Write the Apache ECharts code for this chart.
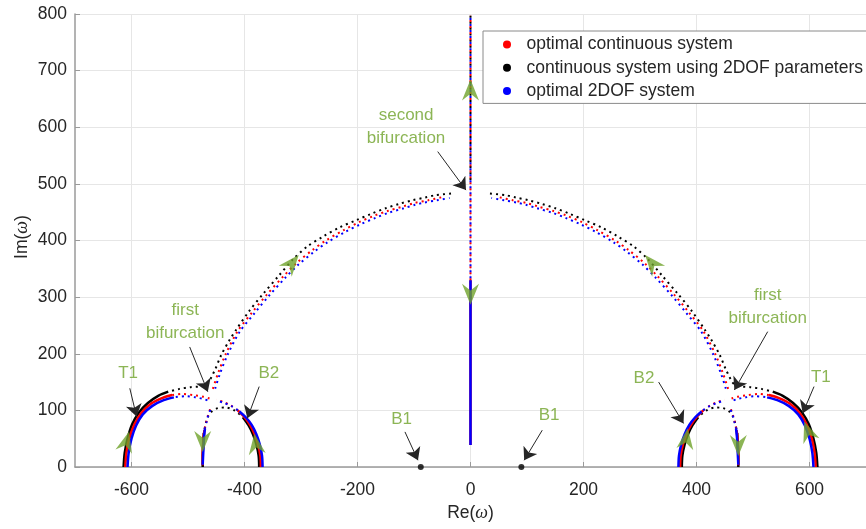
<!DOCTYPE html>
<html>
<head>
<meta charset="utf-8">
<script src="https://cdn.jsdelivr.net/npm/echarts@6/dist/echarts.min.js"></script>
<style>
  html, body { margin: 0; padding: 0; background: #fff; }
  #chart { width: 866px; height: 529px; }
</style>
</head>
<body>
<div id="chart"></div>
<script>
// axis ticks
var xTicks = [-600, -400, -200, 0, 200, 400, 600];
var yTicks = [0, 100, 200, 300, 400, 500, 600, 700, 800];

var nameRed = 'optimal continuous system';
var nameBlack = 'continuous system using 2DOF parameters';
var nameBlue = 'optimal 2DOF system';

// ---- optimal continuous system (red), left half
var redT1L = [[-611,0],[-609,25],[-604,50],[-595,75],[-582,96],[-565,112],[-545,122],[-528,127]];
var redT1TailL = [[-528,127],[-510,129],[-490,127],[-472,124],[-462,121]];
var redArcL = [[-456,138],[-447,165],[-433,200],[-412,240],[-385,275],[-360,305],[-330,338],[-308,360],[-280,383],[-256,400],[-225,418],[-198,432],[-170,444],[-147,452],[-120,460],[-100,466],[-75,471],[-48,477]];
var redB2L = [[-371,0],[-372,20],[-376,40],[-382,58],[-390,74],[-400,88],[-412,100]];
var redB2TopL = [[-412,100],[-425,109],[-438,115],[-450,119]];
var redDescTopL = [[-461,102],[-465,90],[-468,78],[-471,65]];
var redDescL = [[-471,65],[-473,45],[-474,20],[-474,3]];
// right half
var redT1R = [[611,0],[609,25],[604,50],[595,75],[582,96],[565,112],[545,122],[528,127]];
var redT1TailR = [[528,127],[510,129],[490,127],[472,124],[462,121]];
var redArcR = [[456,138],[447,165],[433,200],[412,240],[385,275],[360,305],[330,338],[308,360],[280,383],[256,400],[225,418],[198,432],[170,444],[147,452],[120,460],[100,466],[75,471],[48,477]];
var redB2R = [[371,0],[372,20],[376,40],[382,58],[390,74],[400,88],[412,100]];
var redB2TopR = [[412,100],[425,109],[438,115],[450,119]];
var redDescTopR = [[461,102],[465,90],[468,78],[471,65]];
var redDescR = [[471,65],[473,45],[474,20],[474,3]];
var redV = [[0,39],[0,330]];
var redVTop = [[0,330],[0,797]];

// ---- continuous system using 2DOF parameters (black)
var blackT1L = [[-614,0],[-612,25],[-607,50],[-599,75],[-587,96],[-571,113],[-552,126],[-535,133]];
var blackArcL = [[-535,133],[-515,138],[-495,141],[-480,142],[-470,144],[-463,150],[-458,160],[-452,172],[-441,198],[-426,225],[-415,242],[-392,275],[-366,307],[-340,337],[-313,368],[-288,390],[-261,407],[-232,423],[-202,436],[-176,447],[-150,457],[-125,465],[-103,471],[-80,476],[-62,480],[-33,483]];
var blackB2L = [[-374,0],[-375,20],[-379,40],[-385,58],[-393,74],[-403,88]];
var blackB2TopL = [[-403,88],[-418,100],[-433,105],[-447,104],[-458,98],[-465,88],[-469,75],[-472,60]];
var blackDescL = [[-472,60],[-473,40],[-474,20],[-474,0]];
var blackT1R = [[614,0],[612,25],[607,50],[599,75],[587,96],[571,113],[552,126],[535,133]];
var blackArcR = [[535,133],[515,138],[495,141],[480,142],[470,144],[463,150],[458,160],[452,172],[441,198],[426,225],[415,242],[392,275],[366,307],[340,337],[313,368],[288,390],[261,407],[232,423],[202,436],[176,447],[150,457],[125,465],[103,471],[80,476],[62,480],[33,483]];
var blackB2R = [[374,0],[375,20],[379,40],[385,58],[393,74],[403,88]];
var blackB2TopR = [[403,88],[418,100],[433,105],[447,104],[458,98],[465,88],[469,75],[472,60]];
var blackDescR = [[472,60],[473,40],[474,20],[474,0]];
var blackVTop = [[0,500],[0,797]];
var blackB1 = [[-88,0],[90,0]];

// ---- optimal 2DOF system (blue)
var blueT1L = [[-607,0],[-605,25],[-600,50],[-592,73],[-580,93],[-563,108],[-543,118],[-525,123]];
var blueT1TailL = [[-525,123],[-505,125],[-487,123],[-472,120],[-464,117]];
var blueArcL = [[-453,135],[-444,163],[-430,198],[-409,238],[-382,272],[-357,302],[-327,335],[-305,357],[-277,380],[-253,397],[-222,415],[-196,428],[-168,440],[-145,449],[-118,457],[-98,463],[-82,467],[-60,471],[-37,475]];
var blueB2L = [[-368,0],[-369,20],[-373,40],[-379,58],[-387,74],[-397,87],[-409,98]];
var blueB2TopL = [[-409,98],[-422,107],[-436,113],[-448,117]];
var blueDescTopL = [[-459,104],[-464,92],[-467,80],[-470,68]];
var blueDescL = [[-470,68],[-472,48],[-473,25],[-474,4]];
var blueT1R = [[607,0],[605,25],[600,50],[592,73],[580,93],[563,108],[543,118],[525,123]];
var blueT1TailR = [[525,123],[505,125],[487,123],[472,120],[464,117]];
var blueArcR = [[453,135],[444,163],[430,198],[409,238],[382,272],[357,302],[327,335],[305,357],[277,380],[253,397],[222,415],[196,428],[168,440],[145,449],[118,457],[98,463],[82,467],[60,471],[37,475]];
var blueB2R = [[368,0],[369,20],[373,40],[379,58],[387,74],[397,87],[409,98]];
var blueB2TopR = [[409,98],[422,107],[436,113],[448,117]];
var blueDescTopR = [[459,104],[464,92],[467,80],[470,68]];
var blueDescR = [[470,68],[472,48],[473,25],[474,4]];
var blueV = [[0,39],[0,330]];
var blueVTop = [[0,330],[0,797]];

// green direction arrows: x, y, rotation
var dirArrows = [
  [-609,45,-15], [-474,45,180], [-380,41,8], [-316,360,-40],
  [0,305,180], [0,666,0],
  [321,360,40], [382,50,-8], [474,38,180], [597,63,20]
];

// annotation arrows: from -> to
var annoArrows = [
  [[-603,139],[-591,89]],
  [[-374,142],[-395,86]],
  [[-497,212],[-465,133]],
  [[-58,557],[-8,489]],
  [[-116,62],[-93,12]],
  [[127,65],[95,12]],
  [[333,150],[377,77]],
  [[526,239],[467,136]],
  [[608,142],[588,95]]
];

// annotation texts
var annoTexts = [
  ['T1',-606,165], ['B2',-357,165], ['first\nbifurcation',-505,257],
  ['second\nbifurcation',-114,601], ['B1',-122,84], ['B1',139,92],
  ['B2',307,157], ['first\nbifurcation',526,283], ['T1',620,159]
];

var RED = '#ff0000', BLACK = '#000000', BLUE = '#0000ff', GREEN = '#6fa22a';
var FONT = 'Liberation Sans, Arial, sans-serif';

function branch(name, color, data, dotted, offset) {
  return {
    name: name, type: 'line', data: data, symbol: 'none', showSymbol: false,
    smooth: 0.3, color: color, itemStyle: {color: color}, silent: true,
    lineStyle: {color: color, width: dotted ? 2 : 2.5, type: dotted ? [2, 4] : 'solid', dashOffset: offset || 0},
    z: 2
  };
}

var series = [];
// black first (bottom), then red, then blue
[blackT1L, blackB2L, blackDescL, blackT1R, blackB2R, blackDescR].forEach(function (d) {
  series.push(branch(nameBlack, BLACK, d, false));
});
[blackArcL, blackB2TopL, blackArcR, blackB2TopR, blackVTop].forEach(function (d) {
  series.push(branch(nameBlack, BLACK, d, true, 2));
});
[redT1L, redB2L, redDescL, redT1R, redB2R, redDescR, redV].forEach(function (d) {
  series.push(branch(nameRed, RED, d, false));
});
[redT1TailL, redArcL, redB2TopL, redDescTopL, redT1TailR, redArcR, redB2TopR, redDescTopR, redVTop].forEach(function (d) {
  series.push(branch(nameRed, RED, d, true, 0));
});
[blueT1L, blueB2L, blueDescL, blueT1R, blueB2R, blueDescR, blueV].forEach(function (d) {
  series.push(branch(nameBlue, BLUE, d, false));
});
[blueT1TailL, blueArcL, blueB2TopL, blueDescTopL, blueT1TailR, blueArcR, blueB2TopR, blueDescTopR, blueVTop].forEach(function (d) {
  series.push(branch(nameBlue, BLUE, d, true, 4));
});

// B1 points
series.push({
  name: nameBlack, type: 'scatter', data: blackB1, symbol: 'circle', symbolSize: 6,
  itemStyle: {color: BLACK}, silent: true, z: 3
});

// annotation arrows
series.push({
  type: 'lines', coordinateSystem: 'cartesian2d', silent: true, z: 5,
  data: annoArrows.map(function (a) { return {coords: a}; }),
  symbol: ['none', 'arrow'], symbolSize: 12,
  lineStyle: {color: '#262626', width: 1, opacity: 1}
});

// green direction arrows
series.push({
  type: 'scatter', silent: true, z: 6,
  symbol: 'path://M0,0 L9,22 L0,15 L-9,22 Z', symbolSize: [17, 21],
  itemStyle: {color: GREEN},
  data: dirArrows.map(function (a) { return {value: [a[0], a[1]], symbolRotate: a[2]}; })
});

// annotation labels
series.push({
  type: 'scatter', silent: true, z: 7, symbolSize: 1,
  itemStyle: {color: 'rgba(0,0,0,0)'},
  label: {show: true, position: 'inside', formatter: '{b}', color: GREEN, fontSize: 17, lineHeight: 23, fontFamily: FONT, align: 'center', verticalAlign: 'middle'},
  labelLayout: {hideOverlap: false},
  data: annoTexts.map(function (t) { return {name: t[0], value: [t[1], t[2]]}; })
});

var chart = echarts.init(document.getElementById('chart'));
chart.setOption({
  animation: false,
  backgroundColor: '#fff',
  textStyle: {fontFamily: FONT},
  grid: {left: 75, top: 14, width: 796, height: 453},
  legend: {
    data: [nameRed, nameBlack, nameBlue],
    orient: 'vertical', left: 483, top: 31,
    icon: 'circle', itemWidth: 29, itemHeight: 8, itemGap: 5.2,
    padding: [4.5, 30, 3.5, 20],
    backgroundColor: '#fff', borderColor: '#8a8a8a', borderWidth: 1,
    textStyle: {fontSize: 17.5, color: '#262626', fontFamily: FONT},
    selectedMode: false
  },
  // y axis title drawn as rotated text
  graphic: [{
    type: 'text', x: 22, y: 237, rotation: Math.PI / 2, silent: true,
    style: {
      text: 'Im({i|ω})', align: 'center', verticalAlign: 'middle',
      fontSize: 17.5, fill: '#262626', fontFamily: FONT,
      rich: {i: {fontStyle: 'italic', fontFamily: 'Liberation Serif', fontSize: 18, fill: '#262626'}}
    }
  }],
  xAxis: {
    type: 'value', min: -700, max: 700,
    name: 'Re({i|ω})', nameLocation: 'middle', nameGap: 37,
    nameTextStyle: {fontSize: 17.5, color: '#262626', fontFamily: FONT, rich: {i: {fontStyle: 'italic', fontFamily: 'Liberation Serif', fontSize: 18, color: '#262626'}}},
    axisLine: {show: true, onZero: false, lineStyle: {color: '#9a9a9a', width: 1.5}},
    axisTick: {show: true, inside: true, length: 5, customValues: xTicks, lineStyle: {color: '#9a9a9a'}},
    axisLabel: {customValues: xTicks, fontSize: 17.5, color: '#262626', margin: 14, fontFamily: FONT},
    splitLine: {show: true, lineStyle: {color: '#e6e6e6', width: 1}}
  },
  yAxis: {
    type: 'value', min: 0, max: 800, interval: 100,
    axisLine: {show: true, onZero: false, lineStyle: {color: '#9a9a9a', width: 1.5}},
    axisTick: {show: true, inside: true, length: 5, lineStyle: {color: '#9a9a9a'}},
    axisLabel: {fontSize: 17.5, color: '#262626', margin: 8, fontFamily: FONT},
    splitLine: {show: true, lineStyle: {color: '#e6e6e6', width: 1}}
  },
  series: series
});
</script>
</body>
</html>
